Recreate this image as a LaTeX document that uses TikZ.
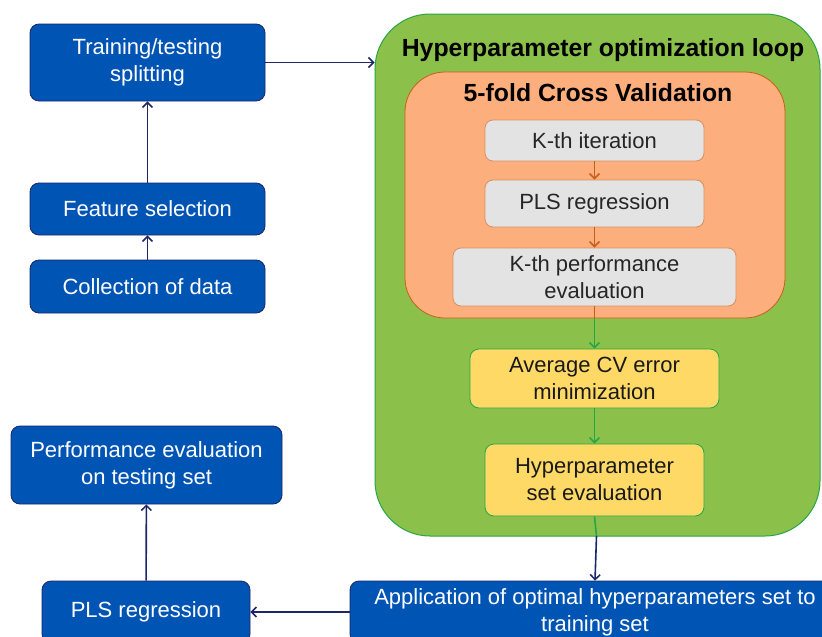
\documentclass[tikz,border=0pt]{standalone}
\usepackage{fontspec}
\setmainfont{Liberation Sans}
\usetikzlibrary{arrows.meta}
\definecolor{bluebox}{RGB}{0,84,180}
\definecolor{navy}{RGB}{28,38,104}
\definecolor{greenfill}{RGB}{139,193,74}
\definecolor{greenline}{RGB}{40,165,70}
\definecolor{orangefill}{RGB}{252,174,124}
\definecolor{orangeline}{RGB}{200,95,25}
\definecolor{grayfill}{RGB}{227,227,227}
\definecolor{yellowfill}{RGB}{255,217,102}
\tikzset{
  bluenode/.style={draw=navy, line width=0.8pt, fill=bluebox, rounded corners=9pt,
    text=white, align=center, inner sep=0pt, font=\fontsize{22}{27}\selectfont},
  graynode/.style={draw=orangeline!70, line width=0.8pt, fill=grayfill, rounded corners=8pt,
    text=black!85, align=center, inner sep=0pt, font=\fontsize{22}{27}\selectfont},
  yellownode/.style={draw=greenline, line width=0.8pt, fill=yellowfill, rounded corners=9pt,
    text=black!90, align=center, inner sep=0pt, font=\fontsize{22}{27}\selectfont},
  navyarrow/.style={draw=navy, line width=1.6pt, -{Straight Barb[length=5pt,width=10pt,line width=1.5pt]}},
  orangearrow/.style={draw=orangeline, line width=1.6pt, -{Straight Barb[length=5pt,width=10pt,line width=1.5pt]}},
  greenarrow/.style={draw=greenline, line width=1.6pt, -{Straight Barb[length=5pt,width=10pt,line width=1.5pt]}},
  titletext/.style={font=\bfseries\fontsize{24.8}{28}\selectfont, text=black, inner sep=0pt}
}
\begin{document}
\begin{tikzpicture}[x=1pt,y=-1pt]
\useasboundingbox (0,0) rectangle (822,637);
\clip (0,0) rectangle (822,637);
\fill[white] (0,0) rectangle (822,637);

% containers
\node[draw=greenline, line width=1pt, fill=greenfill, rounded corners=55pt,
  minimum width=445pt, minimum height=522pt, inner sep=0pt] (loop) at (597.5,275) {};
\node[titletext] (looptitle) at (603,50) {Hyperparameter optimization loop};
\node[draw=orangeline, line width=0.8pt, fill=orangefill, rounded corners=40pt,
  minimum width=380pt, minimum height=246pt, inner sep=0pt] (cv) at (595,195) {};
\node[titletext] (cvtitle) at (598,93) {5-fold Cross Validation};

% left column
\node[bluenode, minimum width=235pt, minimum height=77pt] (train) at (147.5,62.5) {Training/testing\\splitting};
\node[bluenode, minimum width=235pt, minimum height=52pt] (feat) at (147.5,209) {Feature selection};
\node[bluenode, minimum width=235pt, minimum height=53pt] (coll) at (147.5,286.5) {Collection of data};
\node[bluenode, minimum width=271pt, minimum height=78pt] (perf) at (146.5,465) {Performance evaluation\\on testing set};
\node[bluenode, minimum width=208pt, minimum height=62pt] (pls) at (146,612) {PLS regression};
\node[bluenode, minimum width=490pt, minimum height=62pt] (app) at (595,612) {Application of optimal hyperparameters set to\\training set};

% inner boxes
\node[graynode, minimum width=219pt, minimum height=41pt] (kit) at (594.5,140.5) {K-th iteration};
\node[graynode, minimum width=219pt, minimum height=47pt] (plsin) at (594.5,203.5) {PLS regression};
\node[graynode, minimum width=283pt, minimum height=58pt] (kperf) at (594.5,277) {K-th performance\\evaluation};
\node[yellownode, minimum width=249pt, minimum height=59pt] (avg) at (594.5,378.5) {Average CV error\\minimization};
\node[yellownode, minimum width=219pt, minimum height=72pt] (hyp) at (594.5,480) {Hyperparameter\\set evaluation};

% connectors
\draw[navyarrow] (coll) -- (feat);
\draw[navyarrow] (feat) -- (train);
\draw[navyarrow] (train.east) -- (train.east -| loop.west);
\draw[orangearrow] (kit) -- (plsin);
\draw[orangearrow] (plsin) -- (kperf);
\coordinate (cvout) at (kperf.south |- cv.south);
\draw[draw=orangeline, line width=1.6pt] (kperf.south) -- (cvout);
\draw[greenarrow] (cvout) -- (avg.north);
\draw[greenarrow] (avg) -- (hyp);
\coordinate (kink) at (596.5,536);
\draw[draw=greenline, line width=1.6pt] (hyp.south) -- (kink);
\draw[navyarrow] (kink) -- (app.north);
\draw[navyarrow] (app.west |- pls) -- (pls.east);
\draw[navyarrow] (pls) -- (perf);
\end{tikzpicture}
\end{document}
